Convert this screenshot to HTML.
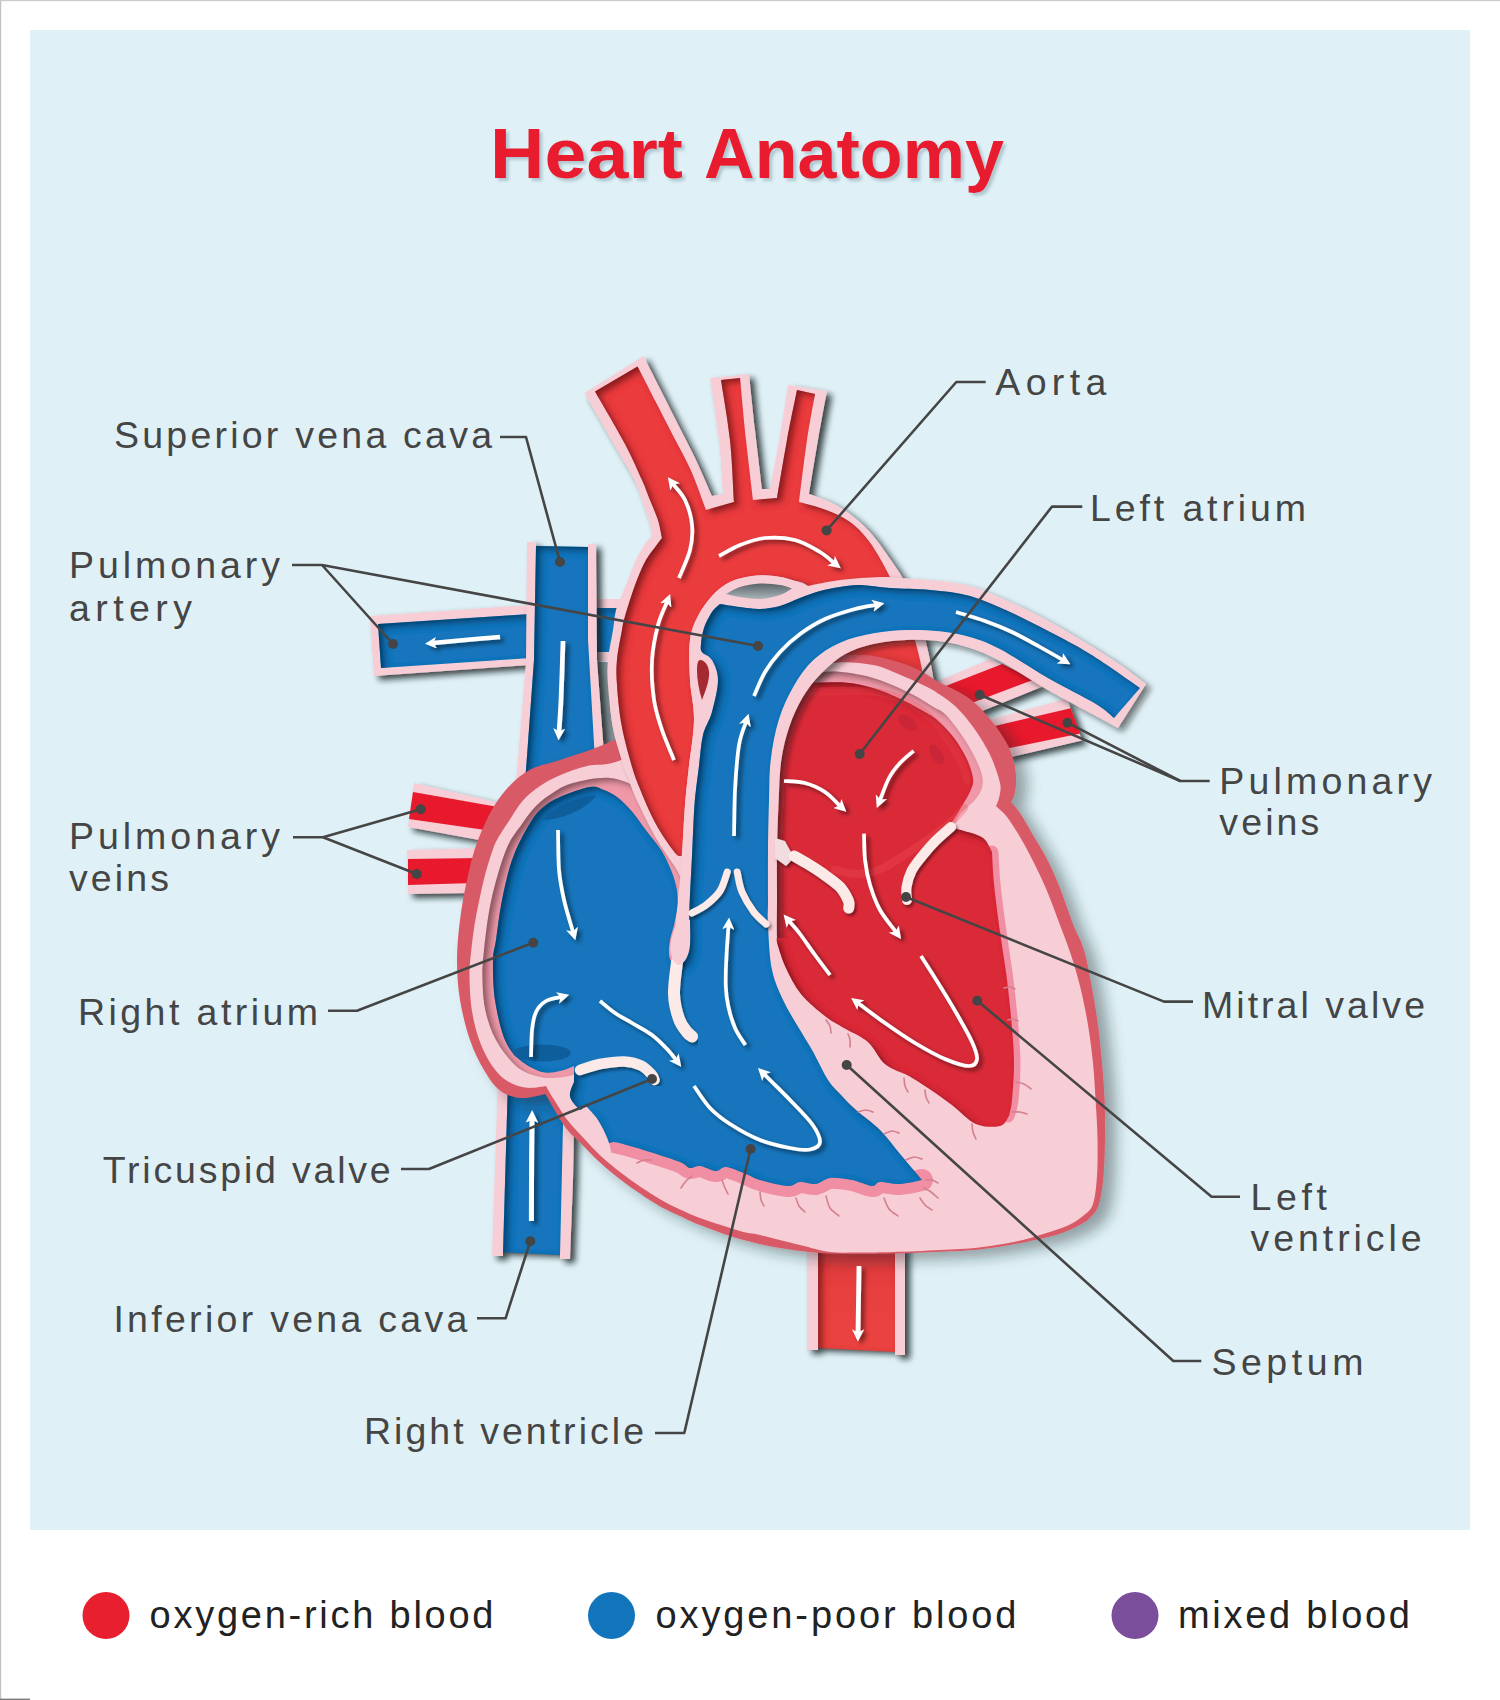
<!DOCTYPE html>
<html lang="en"><head><meta charset="utf-8"><title>Heart Anatomy</title>
<style>
html,body{margin:0;padding:0;background:#fff}
body{width:1500px;height:1700px;overflow:hidden;font-family:"Liberation Sans",sans-serif}
svg{display:block}
.lb{font-family:"Liberation Sans",sans-serif;font-size:37.5px;fill:#454545}
.ld{fill:none;stroke:#454545;stroke-width:2.6;stroke-linejoin:round}
.dot{fill:#454545}
</style></head><body>
<svg width="1500" height="1700" viewBox="0 0 1500 1700">
<defs>
<filter id="ds" x="-20%" y="-20%" width="140%" height="140%"><feDropShadow dx="5" dy="4" stdDeviation="3" flood-color="#0c1216" flood-opacity=".8"/></filter>
<filter id="dsm" x="-20%" y="-20%" width="140%" height="140%"><feDropShadow dx="5" dy="4" stdDeviation="3.2" flood-color="#0c1216" flood-opacity=".55"/></filter>
<filter id="ds2" x="-20%" y="-20%" width="140%" height="140%"><feDropShadow dx="11" dy="7" stdDeviation="7" flood-color="#16242b" flood-opacity=".4"/></filter>
<filter id="dss" x="-30%" y="-30%" width="160%" height="160%"><feDropShadow dx="2" dy="2.5" stdDeviation="1.6" flood-color="#000" flood-opacity=".45"/></filter>
<filter id="dsa" filterUnits="userSpaceOnUse" x="0" y="0" width="1500" height="1700"><feDropShadow dx="3.5" dy="3" stdDeviation="1.9" flood-color="#000" flood-opacity=".5"/></filter>
<filter id="ts" x="-10%" y="-30%" width="120%" height="160%"><feDropShadow dx="3" dy="3" stdDeviation="1.5" flood-color="#5a7a88" flood-opacity=".35"/></filter>
<filter id="is" x="-10%" y="-10%" width="120%" height="120%">
<feComponentTransfer in="SourceAlpha" result="inv"><feFuncA type="table" tableValues="1 0"/></feComponentTransfer>
<feGaussianBlur in="inv" stdDeviation="3.2" result="b"/>
<feOffset in="b" dx="5" dy="4" result="o"/>
<feFlood flood-color="#000" flood-opacity=".7"/>
<feComposite in2="o" operator="in"/>
<feComposite in2="SourceAlpha" operator="in" result="sh"/>
<feMerge><feMergeNode in="SourceGraphic"/><feMergeNode in="sh"/></feMerge>
</filter>
<marker id="ah" viewBox="0 0 10 10" refX="3" refY="5" markerWidth="3.3" markerHeight="3.3" orient="auto-start-reverse" markerUnits="strokeWidth"><path d="M0 0L10 5L0 10L2.5 5Z" fill="#fff"/></marker>
<marker id="ah2" viewBox="0 0 10 10" refX="3" refY="5" markerWidth="2.55" markerHeight="2.55" orient="auto-start-reverse" markerUnits="strokeWidth"><path d="M0 0L10 5L0 10L2.5 5Z" fill="#fff"/></marker>
</defs>
<rect x="0" y="0" width="1500" height="1700" fill="#fff"/>
<rect x="30" y="30" width="1440" height="1500" fill="#dff1f7"/>
<rect x="0" y="0" width="1.2" height="1700" fill="#c2c2c2"/><rect x="0" y="0" width="1500" height="1.2" fill="#cccccc"/><rect x="0" y="1698.6" width="30" height="1.4" fill="#7d7d7d"/>
<g font-family="Liberation Sans, sans-serif" font-weight="bold" font-size="70.5" fill="#e81f2e" filter="url(#ts)"><text x="490" y="178" textLength="193" lengthAdjust="spacingAndGlyphs">Heart</text><text x="704" y="178" textLength="300" lengthAdjust="spacingAndGlyphs">Anatomy</text></g>
<path d="M807 1235L905 1235L905 1355L895 1355L895 1350L818 1347L818 1350L807 1350L807 1235Z" fill="#f7cdd6" filter="url(#ds)" />
<linearGradient id="gda" x1="0" y1="0" x2="0" y2="1"><stop offset="0" stop-color="#d9333a"/><stop offset=".5" stop-color="#e8403f"/><stop offset="1" stop-color="#ea4341"/></linearGradient>
<path d="M818 1235L895 1235L895 1352L818 1348L818 1235Z" fill="url(#gda)" filter="url(#is)" />
<path d="M930 684.5L990 659L1044 686L970 716L930 684.5Z" fill="#f7cdd6" filter="url(#ds)" />
<path d="M938 689L1002.3 664L1033.5 679.7L960 707.5L938 689Z" fill="#e8192c" />
<path d="M978 723L1067 698.5L1082 740.4L1005 758.5L978 723Z" fill="#f7cdd6" filter="url(#ds)" />
<path d="M980 729.5L1070.7 708.3L1080.3 733.5L998 750.5L980 729.5Z" fill="#e8192c" />
<path d="M414 783L500 803L490 842L408 827L414 783Z" fill="#f7cdd6" filter="url(#ds)" />
<path d="M413 792L498 807L492 831L409 819L413 792Z" fill="#e8192c" />
<path d="M407 850L482 848L472 893L408 894L407 850Z" fill="#f7cdd6" filter="url(#ds)" />
<path d="M408 859L480 858L474 883L408 885L408 859Z" fill="#e8192c" />
<path d="M370 616L530 605L530 665L374 676L370 616Z" fill="#f7cdd6" filter="url(#ds)" />
<path d="M378 624L530 614L530 658L381 668L378 624Z" fill="#1275bc" filter="url(#is)" />
<path d="M590 599L630 599L630 661L590 661L590 599Z" fill="#f7cdd6" />
<path d="M596 608L626 608L612 652L596 652L596 608Z" fill="#1275bc" filter="url(#is)" />
<path d="M596 662L620 662L622 745L600 745L596 662Z" fill="#8a979c" />
<path d="M498 1080L575 1080L573 1180L570 1259L560 1259L560 1253L503 1251L503 1256L492 1256L498 1080Z" fill="#f7cdd6" filter="url(#ds)" />
<path d="M508 1080L564 1080L560 1255L503 1252L508 1080Z" fill="#1275bc" filter="url(#is)" />
<path d="M527 542L536 542L536 547L588 548L588 544L596 544L597 660L603 740L608 800L514 800L518 760L526 660L527 542Z" fill="#f7cdd6" filter="url(#ds)" />
<path d="M536 546L588 547L588 640L594 744L598 800L522 800L526 770L534 660L536 546Z" fill="#1275bc" filter="url(#is)" />
<path d="M584.5 393L643.5 356C646.4 361.7 654.5 377.7 660.7 390C666.9 402.3 675 418.3 680.9 430C686.8 441.7 690.8 449 696 460C701.2 471 709.3 490 712 496L723 494C722.3 485 721.2 459.3 719 440C716.8 420.7 711.5 388.3 710 378L749 374C750 383.3 752.8 410.8 755 430C757.2 449.2 760.8 479.2 762 489L770 489C771.7 480.2 777 453.3 780 436C783 418.7 786.7 393.5 788 385L827 391C825.5 399.2 821 422.8 818 440C815 457.2 810.5 485 809 494C812.5 495.3 823.2 498.7 830 502C836.8 505.3 843.3 509 850 514C856.7 519 863.7 525 870 532C876.3 539 882 547.3 888 556C894 564.7 900.7 573.3 906 584C911.3 594.7 916 607.3 920 620C924 632.7 927.3 646.7 930 660C932.7 673.3 934.3 681.7 936 700C937.7 718.3 939.3 758.3 940 770L835 770C834.2 751.7 832.2 685.8 830 660C827.8 634.2 825.7 626.3 822 615C818.3 603.7 813 596.3 808 592C803 587.7 796.7 590.2 792 589C787.3 587.8 785.3 585.9 780 585C774.7 584.1 766.7 583.3 760 583.6C753.3 583.9 745.7 585.3 740 587C734.3 588.7 731.3 589.3 726 594C720.7 598.7 712.3 607.3 708 615C703.7 622.7 701.3 629.2 700 640C698.7 650.8 699.7 666.7 700 680C700.3 693.3 702.5 701.7 702 720C701.5 738.3 698.7 770 697 790C695.3 810 694.7 825.3 692 840C689.3 854.7 682.8 871.7 681 878C680 876.1 678.9 873.2 674.7 866.5C670.5 859.8 662.2 849 655.9 838C649.6 827 641.7 810.8 637 800.6C632.3 790.4 630.3 784.1 627.6 777C624.9 769.9 623.4 766.2 621 758C618.6 749.8 615.2 740.2 613 728C610.8 715.8 608.8 696.3 608 685C607.2 673.7 607.2 669.2 608 660C608.8 650.8 611.7 638.3 613 630C614.3 621.7 614.5 615.8 616 610C617.5 604.2 620 600 622 595C624 590 625.7 585.8 628 580C630.3 574.2 633.2 566 636 560C638.8 554 642.3 548 645 544C647.7 540 650.8 537.3 652 536C651.5 533.3 650.7 526 649 520C647.3 514 644.4 506.7 642 500C639.6 493.3 639 489 634.5 480C630 471 623.3 460.5 615 446C606.7 431.5 589.6 401.8 584.5 393Z" fill="#f7cdd6" filter="url(#ds)" />
<path d="M595 391.5L637.5 366.5C640.4 372.1 648.8 388.4 654.7 400C660.7 411.6 667.2 424.3 673.2 436C679.2 447.7 685.2 457.7 690.7 470C696.2 482.3 703.5 503.3 706 510L734 502C733.3 491.7 732.2 460.3 730 440C727.8 419.7 722.5 390 721 380L740 378C741 388.3 743.8 419.7 746 440C748.2 460.3 751.8 490 753 500L777 498C778.7 488.3 783.7 458 787 440C790.3 422 795.3 398.3 797 390L815 394C813.7 401.7 809.7 422 807 440C804.3 458 800.3 491.7 799 502C803.5 503.3 817.5 506.7 826 510C834.5 513.3 843 517 850 522C857 527 862.7 533.3 868 540C873.3 546.7 877.3 553.7 882 562C886.7 570.3 891.3 579.5 896 590C900.7 600.5 906 613.3 910 625C914 636.7 917.3 647.5 920 660C922.7 672.5 924.3 682.5 926 700C927.7 717.5 929.3 754.2 930 765L845 765C844.2 747.5 842.5 685.5 840 660C837.5 634.5 835.3 624.3 830 612C824.7 599.7 814.3 591.3 808 586C801.7 580.7 797.7 581.7 792 580C786.3 578.3 780.7 576.7 774 576C767.3 575.3 759.3 575 752 576C744.7 577 736.7 578.7 730 582C723.3 585.3 717.3 590.3 712 596C706.7 601.7 701.7 608.7 698 616C694.3 623.3 691.3 629.3 690 640C688.7 650.7 689.3 666.7 690 680C690.7 693.3 694.2 705.4 694 720C693.8 734.6 690.3 753.4 688.8 767.6C687.3 781.8 686 792.4 685 805C684 817.6 683.2 834.5 682.7 843C682.2 851.5 681.9 853.8 681.8 856C680.6 855.4 679 857.7 674.7 852.4C670.4 847.1 661.9 835 655.9 824C649.9 813 643.4 797.5 639 786.5C634.6 775.5 632.5 768.8 629.5 758C626.5 747.2 623.1 734.2 621 722C618.9 709.8 617.7 695.3 617 685C616.3 674.7 616.2 669.2 617 660C617.8 650.8 620.8 636.7 622 630C623.2 623.3 622.7 625 624 620C625.3 615 627.8 606.7 630 600C632.2 593.3 634.3 586.7 637 580C639.7 573.3 642.8 565.7 646 560C649.2 554.3 653.3 549.7 656 546C658.7 542.3 661 539.3 662 538C661.3 535 660 526.3 658 520C656 513.7 652.7 506.7 650 500C647.3 493.3 646.2 489.3 642 480C637.8 470.7 632.8 458.8 625 444C617.2 429.2 600 400.2 595 391.5Z" fill="#ea3a3d" filter="url(#is)" />
<linearGradient id="gh" x1="0" y1="0" x2="0" y2="1"><stop offset="0" stop-color="#5c6468"/><stop offset="1" stop-color="#aab6ba"/></linearGradient>
<path d="M1011 802C1012.5 803.8 1016.3 807.5 1020 813C1023.7 818.5 1028.5 827.3 1033 835C1037.5 842.7 1042.5 850.2 1047 859C1051.5 867.8 1055.7 877.2 1060 888C1064.3 898.8 1069 913.7 1073 924C1077 934.3 1080.8 939.3 1084 950C1087.2 960.7 1089.7 975.5 1092 988C1094.3 1000.5 1096.3 1012.5 1098 1025C1099.7 1037.5 1100.9 1050.5 1102 1063C1103.1 1075.5 1104.1 1087.5 1104.6 1100C1105.1 1112.5 1105.2 1125.3 1105 1138C1104.8 1150.7 1104.5 1165 1103.5 1176C1102.5 1187 1101.2 1197 1099 1204C1096.8 1211 1094 1214.1 1090 1218C1086 1221.9 1081 1224.6 1075 1227.5C1069 1230.4 1063.8 1232.8 1054 1235.5C1044.2 1238.2 1029 1241.5 1016.5 1243.8C1004 1246.1 991.8 1248.1 979 1249.4C966.2 1250.7 954.3 1251 940 1251.7C925.7 1252.4 906.3 1253.2 893 1253.6C879.7 1254 872.2 1254.1 860 1254C847.8 1253.9 833.3 1254 820 1253C806.7 1252 793.3 1250.3 780 1248C766.7 1245.7 753.3 1242.8 740 1239C726.7 1235.2 710 1228.8 700 1225C690 1221.2 686.7 1219.1 680 1216C673.3 1212.9 666.7 1210.1 660 1206.4C653.3 1202.7 646.7 1198.1 640 1193.6C633.3 1189.1 626.7 1184.4 620 1179.2C613.3 1174 606.7 1168.5 600 1162.4C593.3 1156.3 585.9 1148.4 580 1142.4C574.1 1136.4 570.5 1134.5 564.8 1126.4C559 1118.3 548.7 1099.4 545.5 1094C541.4 1094.7 528.6 1098.6 521 1098C513.4 1097.4 506.2 1095.2 500 1090.5C493.8 1085.8 489 1078.4 484 1070C479 1061.6 474 1051.7 470 1040C466 1028.3 462.2 1013.3 460 1000C457.8 986.7 457 973.3 457 960C457 946.7 458.3 933.3 460 920C461.7 906.7 464 893.3 467 880C470 866.7 472.8 853.3 478 840C483.2 826.7 490 811.3 498 800C506 788.7 515.7 778.7 526 772C536.3 765.3 549.3 763.7 560 760C570.7 756.3 581 753.3 590 750C599 746.7 599 746.7 614 740C629 733.3 655.7 720 680 710C704.3 700 736.7 688.7 760 680C783.3 671.3 805.8 662.2 820 658C834.2 653.8 836.2 655.3 845 655C853.8 654.7 863.8 654.7 873 656C882.2 657.3 892.2 660.2 900 662.7C907.8 665.2 913.3 667.4 920 670.7C926.7 674 934.2 679.5 940 682.7C945.8 685.9 950 687.3 955 690C960 692.7 965.3 695.5 970 699C974.7 702.5 979 706.8 983 711C987 715.2 990.7 719.7 994 724C997.3 728.3 1000.3 732.7 1003 737C1005.7 741.3 1008 745 1010 750C1012 755 1014 761.3 1015 767C1016 772.7 1016.2 779.2 1016 784C1015.8 788.8 1014.8 793 1014 796C1013.2 799 1011.5 801 1011 802Z" fill="#d75a66" filter="url(#ds2)" />
<path d="M996 806C997.8 807.8 1003 811.8 1007 817C1011 822.2 1015.7 829.7 1020 837C1024.3 844.3 1028.5 852 1033 861C1037.5 870 1042.5 880.3 1047 891C1051.5 901.7 1056 914.3 1060 925C1064 935.7 1067.6 944.5 1071 955C1074.4 965.5 1077.7 976.3 1080.5 988C1083.3 999.7 1085.9 1012.5 1088 1025C1090.1 1037.5 1091.7 1050.5 1093 1063C1094.3 1075.5 1094.8 1087.5 1095.6 1100C1096.3 1112.5 1097.3 1125.3 1097.5 1138C1097.7 1150.7 1097.8 1165 1097 1176C1096.2 1187 1095.3 1197.3 1093 1204C1090.7 1210.7 1087.2 1212.4 1083 1216C1078.8 1219.6 1074.3 1222.6 1068 1225.5C1061.7 1228.4 1053.7 1230.8 1045 1233.5C1036.3 1236.2 1027 1239.2 1016 1241.5C1005 1243.8 991.7 1246 979 1247.4C966.3 1248.8 954.3 1249.2 940 1250C925.7 1250.8 906.3 1251.6 893 1252C879.7 1252.4 870.5 1252.5 860 1252.5C849.5 1252.5 840 1253.2 830 1252C820 1250.8 811.7 1247.8 800 1245C788.3 1242.2 770 1237.3 760 1235C750 1232.7 750 1233.8 740 1231C730 1228.2 710 1221.6 700 1218C690 1214.4 686.7 1212.7 680 1209.6C673.3 1206.5 666.7 1203.1 660 1199.2C653.3 1195.3 646.7 1190.9 640 1186.4C633.3 1181.9 626.7 1177.2 620 1172C613.3 1166.8 606 1160.8 600 1155.2C594 1149.6 589.3 1144.1 584 1138.4C578.7 1132.7 573.2 1127.5 568 1120.8C562.8 1114.1 556.7 1103.8 553 1098C549.3 1092.2 547.2 1088 546 1086C542.8 1086.3 533.3 1088.5 527 1087.8C520.7 1087.1 513.7 1085.1 508 1081.6C502.3 1078.1 497.7 1073.6 493 1067C488.3 1060.4 483.5 1051.3 480 1042C476.5 1032.7 473.8 1022.2 472 1011C470.2 999.8 469.6 985.2 469.5 975C469.4 964.8 470.5 958.3 471.3 950C472.1 941.7 473.2 933.3 474.5 925C475.8 916.7 477.6 908.3 479.3 900C481.1 891.7 482.8 883.3 485 875C487.2 866.7 490.5 856.2 492.7 850C494.9 843.8 495.3 842.8 498 838C500.7 833.2 504.9 827.2 509 821C513.1 814.8 517.5 806.5 522.7 800.7C527.9 794.9 533.8 790.2 540 786C546.2 781.8 552.2 778.6 560 775.3C567.8 772 577 768.5 587 766C597 763.5 604.5 766.5 620 760.5C635.5 754.5 656.7 740.1 680 730C703.3 719.9 738.3 709.7 760 700C781.7 690.3 797.3 678.2 810 672C822.7 665.8 825.5 663.9 836 662.7C846.5 661.5 862.3 663 873 665C883.7 667 891 671.1 900 674.7C909 678.3 920 683.4 926.7 686.7C933.4 690 935.5 691.7 940 694.7C944.5 697.8 949.5 701 954 705C958.5 709 963 714.2 967 719C971 723.8 974.7 729 978 734C981.3 739 984.3 744 987 749C989.7 754 991.8 758 994 764C996.2 770 999.6 779.3 1000.4 785C1001.2 790.7 999.7 794.5 999 798C998.3 801.5 996.5 804.7 996 806Z" fill="#f7cdd6" />
<path d="M610 778C598.8 776.8 582.5 780.5 573 783C563.5 785.5 559.2 788.9 553 792.7C546.8 796.5 541.2 800.8 536 806C530.8 811.2 527 816.7 522 824C517 831.3 511.1 837.3 506 850C500.9 862.7 495 883.3 491.3 900C487.6 916.7 485.5 936.7 484 950C482.5 963.3 482.2 969.8 482.5 980C482.8 990.2 483.2 1001 485.5 1011C487.8 1021 491.2 1031.2 496 1040C500.8 1048.8 508.3 1058.3 514 1064C519.7 1069.7 524 1071.7 530 1074C536 1076.3 542.3 1078 550 1078C557.7 1078 567.7 1077 576 1074C584.3 1071 581 1065.7 600 1060C619 1054.3 673.3 1056.7 690 1040C706.7 1023.3 700 983.3 700 960C700 936.7 694 918.3 690 900C686 881.7 681 864.2 676 850C671 835.8 666 825 660 815C654 805 648.3 796.2 640 790C631.7 783.8 621.2 779.2 610 778Z" fill="#ee98a8" filter="url(#is)" />
<path d="M790 700C790 674 794.2 688.7 800 684C805.8 679.3 815 673.5 825 672C835 670.5 849.7 672.9 860 674.7C870.3 676.5 877.9 679.4 886.7 682.7C895.5 686 905.3 690.7 913 694.7C920.7 698.7 927.5 703.3 933 706.7C938.5 710.1 940.7 709.5 946 715C951.3 720.5 959.7 731.8 965 740C970.3 748.2 975 757.1 978 764C981 770.9 982.8 776.3 982.8 781.6C982.8 786.9 981.5 790.9 978 796C974.5 801.1 970 804.7 962 812C954 819.3 957 835.3 930 840C903 844.7 823.3 863.3 800 840C776.7 816.7 790 726 790 700Z" fill="#ee98a8" filter="url(#is)" />
<path d="M922 1180C918.3 1180.7 907 1183.7 900 1184C893 1184.3 884.7 1181.7 880 1182C875.3 1182.3 876.7 1186.3 872 1186C867.3 1185.7 859 1181.3 852 1180C845 1178.7 836 1177.3 830 1178C824 1178.7 821 1183.3 816 1184C811 1184.7 804.7 1181.7 800 1182C795.3 1182.3 794.7 1186.3 788 1186C781.3 1185.7 767 1182 760 1180C753 1178 751.7 1176.2 746 1174C740.3 1171.8 731 1167.5 726 1167C721 1166.5 720.3 1171.2 716 1171C711.7 1170.8 704.3 1166.5 700 1166C695.7 1165.5 693.3 1168.7 690 1168C686.7 1167.3 686.7 1164.7 680 1162C673.3 1159.3 658.3 1154.7 650 1152C641.7 1149.3 636 1147.7 630 1146C624 1144.3 616.7 1142.7 614 1142" fill="none" stroke="#f08fa3" stroke-width="22" stroke-linecap="round" stroke-linejoin="round" />
<path d="M992 852C992.3 857.3 992.7 870.7 994 884C995.3 897.3 997.8 916 1000 932C1002.2 948 1005 964 1007 980C1009 996 1010.8 1014 1012 1028C1013.2 1042 1014 1052 1014 1064C1014 1076 1013 1091.3 1012 1100C1011 1108.7 1008.7 1113.3 1008 1116" fill="none" stroke="#f08fa3" stroke-width="13" stroke-linecap="round" stroke-linejoin="round" />
<path d="M814.7 682.7C820 682.7 837 681.8 846.7 682.7C856.4 683.6 864.1 685.3 873 688C881.9 690.7 891 694.5 900 698.7C909 702.9 920 709 926.7 713C933.4 717 935.5 718.5 940 722.7C944.5 726.9 949.5 732 954 738C958.5 744 963.6 752.3 966.8 759C970 765.7 972.3 773.2 973 778.4C973.7 783.6 972.6 785.4 970.8 790C969 794.6 965.6 799.8 962 806C958.4 812.2 951.2 823.5 949 827C951.5 827.7 958.3 829.2 964 831C969.7 832.8 978.3 834.5 983 838C987.7 841.5 990.5 849.7 992 852C992.3 857.3 992.7 870.7 994 884C995.3 897.3 997.8 916 1000 932C1002.2 948 1005 964 1007 980C1009 996 1010.8 1014 1012 1028C1013.2 1042 1014 1052 1014 1064C1014 1076 1012.8 1091.3 1012 1100C1011.2 1108.7 1009.5 1113.3 1009 1116C1007.5 1117.7 1005.5 1124.7 1000 1126C994.5 1127.3 984 1127.5 976 1124C968 1120.5 960 1111 952 1105C944 1099 935.2 1092.8 928 1088C920.8 1083.2 916.2 1080 909 1076C901.8 1072 891.8 1069.7 885 1064C878.2 1058.3 874.8 1048 868 1042C861.2 1036 851.2 1032.3 844 1028C836.8 1023.7 832.2 1021.7 825 1016C817.8 1010.3 807.5 1002 801 994C794.5 986 789.9 976.3 786 968C782.1 959.7 779 949.3 777.5 944C776 938.7 777.1 937.3 777 936L758 936C758 921.7 758 886 758 850C758 814 756 746.7 758 720C760 693.3 763.7 698.7 770 690C776.3 681.3 788.5 669.2 796 668C803.5 666.8 811.6 680.2 814.7 682.7Z" fill="#da2b38" filter="url(#is)" />
<path d="M964 808C961.7 810.5 957.7 816.7 950 823C942.3 829.3 929.2 838.5 918 846C906.8 853.5 893 863.3 883 868C873 872.7 866 873.7 858 874C850 874.3 838.8 870.7 835 870" fill="none" stroke="rgba(238,80,88,.32)" stroke-width="8" stroke-linecap="round" stroke-linejoin="round" />
<path d="M806 692C813.3 691.8 837.3 690.8 850 691C862.7 691.2 871.7 690.8 882 693C892.3 695.2 903.2 699.2 912 704C920.8 708.8 928.7 715.7 935 722C941.3 728.3 945.5 735.2 950 742C954.5 748.8 959.2 756.7 962 763C964.8 769.3 966.2 777.2 967 780" fill="none" stroke="rgba(236,72,80,.25)" stroke-width="8" stroke-linecap="round" stroke-linejoin="round" />
<ellipse cx="907.5" cy="722.5" rx="11" ry="6" transform="rotate(38 907.5 722.5)" fill="#c62538" opacity=".75"/>
<ellipse cx="936.5" cy="754.5" rx="11" ry="5.5" transform="rotate(58 936.5 754.5)" fill="#c62538" opacity=".75"/>
<clipPath id="cpA"><rect x="590" y="705" width="125" height="200"/></clipPath>
<g clip-path="url(#cpA)">
<path d="M584.5 393L643.5 356C646.4 361.7 654.5 377.7 660.7 390C666.9 402.3 675 418.3 680.9 430C686.8 441.7 690.8 449 696 460C701.2 471 709.3 490 712 496L723 494C722.3 485 721.2 459.3 719 440C716.8 420.7 711.5 388.3 710 378L749 374C750 383.3 752.8 410.8 755 430C757.2 449.2 760.8 479.2 762 489L770 489C771.7 480.2 777 453.3 780 436C783 418.7 786.7 393.5 788 385L827 391C825.5 399.2 821 422.8 818 440C815 457.2 810.5 485 809 494C812.5 495.3 823.2 498.7 830 502C836.8 505.3 843.3 509 850 514C856.7 519 863.7 525 870 532C876.3 539 882 547.3 888 556C894 564.7 900.7 573.3 906 584C911.3 594.7 916 607.3 920 620C924 632.7 927.3 646.7 930 660C932.7 673.3 934.3 681.7 936 700C937.7 718.3 939.3 758.3 940 770L835 770C834.2 751.7 832.2 685.8 830 660C827.8 634.2 825.7 626.3 822 615C818.3 603.7 813 596.3 808 592C803 587.7 796.7 590.2 792 589C787.3 587.8 785.3 585.9 780 585C774.7 584.1 766.7 583.3 760 583.6C753.3 583.9 745.7 585.3 740 587C734.3 588.7 731.3 589.3 726 594C720.7 598.7 712.3 607.3 708 615C703.7 622.7 701.3 629.2 700 640C698.7 650.8 699.7 666.7 700 680C700.3 693.3 702.5 701.7 702 720C701.5 738.3 698.7 770 697 790C695.3 810 694.7 825.3 692 840C689.3 854.7 682.8 871.7 681 878C680 876.1 678.9 873.2 674.7 866.5C670.5 859.8 662.2 849 655.9 838C649.6 827 641.7 810.8 637 800.6C632.3 790.4 630.3 784.1 627.6 777C624.9 769.9 623.4 766.2 621 758C618.6 749.8 615.2 740.2 613 728C610.8 715.8 608.8 696.3 608 685C607.2 673.7 607.2 669.2 608 660C608.8 650.8 611.7 638.3 613 630C614.3 621.7 614.5 615.8 616 610C617.5 604.2 620 600 622 595C624 590 625.7 585.8 628 580C630.3 574.2 633.2 566 636 560C638.8 554 642.3 548 645 544C647.7 540 650.8 537.3 652 536C651.5 533.3 650.7 526 649 520C647.3 514 644.4 506.7 642 500C639.6 493.3 639 489 634.5 480C630 471 623.3 460.5 615 446C606.7 431.5 589.6 401.8 584.5 393Z" fill="#f7cdd6" filter="url(#dss)" />
<path d="M595 391.5L637.5 366.5C640.4 372.1 648.8 388.4 654.7 400C660.7 411.6 667.2 424.3 673.2 436C679.2 447.7 685.2 457.7 690.7 470C696.2 482.3 703.5 503.3 706 510L734 502C733.3 491.7 732.2 460.3 730 440C727.8 419.7 722.5 390 721 380L740 378C741 388.3 743.8 419.7 746 440C748.2 460.3 751.8 490 753 500L777 498C778.7 488.3 783.7 458 787 440C790.3 422 795.3 398.3 797 390L815 394C813.7 401.7 809.7 422 807 440C804.3 458 800.3 491.7 799 502C803.5 503.3 817.5 506.7 826 510C834.5 513.3 843 517 850 522C857 527 862.7 533.3 868 540C873.3 546.7 877.3 553.7 882 562C886.7 570.3 891.3 579.5 896 590C900.7 600.5 906 613.3 910 625C914 636.7 917.3 647.5 920 660C922.7 672.5 924.3 682.5 926 700C927.7 717.5 929.3 754.2 930 765L845 765C844.2 747.5 842.5 685.5 840 660C837.5 634.5 835.3 624.3 830 612C824.7 599.7 814.3 591.3 808 586C801.7 580.7 797.7 581.7 792 580C786.3 578.3 780.7 576.7 774 576C767.3 575.3 759.3 575 752 576C744.7 577 736.7 578.7 730 582C723.3 585.3 717.3 590.3 712 596C706.7 601.7 701.7 608.7 698 616C694.3 623.3 691.3 629.3 690 640C688.7 650.7 689.3 666.7 690 680C690.7 693.3 694.2 705.4 694 720C693.8 734.6 690.3 753.4 688.8 767.6C687.3 781.8 686 792.4 685 805C684 817.6 683.2 834.5 682.7 843C682.2 851.5 681.9 853.8 681.8 856C680.6 855.4 679 857.7 674.7 852.4C670.4 847.1 661.9 835 655.9 824C649.9 813 643.4 797.5 639 786.5C634.6 775.5 632.5 768.8 629.5 758C626.5 747.2 623.1 734.2 621 722C618.9 709.8 617.7 695.3 617 685C616.3 674.7 616.2 669.2 617 660C617.8 650.8 620.8 636.7 622 630C623.2 623.3 622.7 625 624 620C625.3 615 627.8 606.7 630 600C632.2 593.3 634.3 586.7 637 580C639.7 573.3 642.8 565.7 646 560C649.2 554.3 653.3 549.7 656 546C658.7 542.3 661 539.3 662 538C661.3 535 660 526.3 658 520C656 513.7 652.7 506.7 650 500C647.3 493.3 646.2 489.3 642 480C637.8 470.7 632.8 458.8 625 444C617.2 429.2 600 400.2 595 391.5Z" fill="#ea3a3d" filter="url(#is)" />
</g>
<clipPath id="cpP"><path clip-rule="evenodd" d="M0 0H1500V1700H0ZM660 938H800V1100H660Z"/></clipPath>
<g clip-path="url(#cpP)">
<path d="M680 880C680.5 873.8 681.9 855.5 682.7 843C683.5 830.5 684 817.6 685 805C686 792.4 687.3 781.8 688.8 767.6C690.3 753.4 693.8 734.6 694 720C694.2 705.4 690.7 693.3 690 680C689.3 666.7 688.7 650.7 690 640C691.3 629.3 694.3 623.3 698 616C701.7 608.7 706.7 601.7 712 596C717.3 590.3 723.3 585.3 730 582C736.7 578.7 744.7 577 752 576C759.3 575 767.3 575.3 774 576C780.7 576.7 786.3 578.3 792 580C797.7 581.7 805.3 585 808 586C813.3 585 828 581.5 840 580C852 578.5 870 577.3 880 577C890 576.7 891.7 577.5 900 578C908.3 578.5 918.3 578.7 930 580C941.7 581.3 956.7 582.3 970 586C983.3 589.7 996.7 596 1010 602C1023.3 608 1033.3 612.7 1050 622C1066.7 631.3 1094 647.7 1110 658C1126 668.3 1140 679.7 1146 684L1118 728C1114.3 726 1107.7 722.3 1096 716C1084.3 709.7 1064 699.2 1048 690C1032 680.8 1013 668 1000 661C987 654 980 651.3 970 648C960 644.7 950.5 642.6 940 641.3C929.5 640 917.8 639.5 906.7 640C895.6 640.5 883.8 641.5 873.3 644C862.8 646.5 852.9 649.6 844 654.7C835.1 659.8 826.9 667.6 820 674.7C813.1 681.8 807.8 688.6 802.7 697.3C797.6 706 792.9 716.2 789.3 726.7C785.7 737.2 783.1 747.8 781.3 760C779.5 772.2 779.4 785 778.7 800C778 815 777.3 833.3 777 850C776.7 866.7 777 885 777 900C777 915 776.5 923.3 777 940C777.5 956.7 779.5 990 780 1000L690 1000C687.7 990 677.7 960 676 940C674.3 920 679.3 890 680 880Z" fill="#f7cdd6" filter="url(#dsm)" />
</g>
<path d="M726 594C728.3 592.8 734.3 588.7 740 587C745.7 585.3 753.3 583.9 760 583.6C766.7 583.3 774.7 584.2 780 585C785.3 585.8 790 587.9 792 588.5C790 589.6 785.3 593.2 780 595C774.7 596.8 766.7 598.7 760 599C753.3 599.3 745.7 597.8 740 597C734.3 596.2 728.3 594.5 726 594Z" fill="url(#gh)" />
<path d="M700 660C706 660 710 668 709 676C708 686 704 694 702 700C699 690 697 680 697 670C697 664 698 660 700 660Z" fill="#a32a30"/>
<path d="M720 604C723.3 604.5 733.3 606.2 740 607C746.7 607.8 753.3 609.2 760 609C766.7 608.8 773.3 607.8 780 606C786.7 604.2 793.3 600.5 800 598C806.7 595.5 813.3 592.8 820 591C826.7 589.2 833.3 588 840 587C846.7 586 851.7 584.8 860 585C868.3 585.2 878.3 587.2 890 588C901.7 588.8 916.7 588.7 930 590C943.3 591.3 956.7 592.3 970 596C983.3 599.7 996.7 606 1010 612C1023.3 618 1036.7 625 1050 632C1063.3 639 1075 644.7 1090 654C1105 663.3 1131.7 682.3 1140 688L1114 718C1111 715.7 1107 710.7 1096 704C1085 697.3 1064 687.2 1048 678C1032 668.8 1013 655.8 1000 649C987 642.2 980 640 970 637C960 634 950.5 632.5 940 631.3C929.5 630.1 917.8 629.7 906.7 630C895.6 630.3 884.4 631.2 873.3 633.3C862.2 635.4 850 638.2 840 642.7C830 647.2 821.1 652.7 813.3 660C805.5 667.3 799.1 676.7 793.3 686.7C787.5 696.7 782.5 707.8 778.7 720C774.9 732.2 772.3 746.7 770.7 760C769.1 773.3 769.5 785 769 800C768.5 815 768.2 833.3 768 850C767.8 866.7 768 887.3 768 900C768 912.7 767.3 914.3 768 926C768.7 937.7 769.3 957.3 772 970C774.7 982.7 779.3 992 784 1002C788.7 1012 795.3 1022 800 1030C804.7 1038 807.3 1041.7 812 1050C816.7 1058.3 823.3 1072.7 828 1080C832.7 1087.3 835.3 1089 840 1094C844.7 1099 849.3 1104 856 1110C862.7 1116 872.7 1122.7 880 1130C887.3 1137.3 893 1145.7 900 1154C907 1162.3 918.3 1175.7 922 1180C918.3 1180.7 907 1183.7 900 1184C893 1184.3 884.7 1181.7 880 1182C875.3 1182.3 876.7 1186.3 872 1186C867.3 1185.7 859 1181.3 852 1180C845 1178.7 836 1177.3 830 1178C824 1178.7 821 1183.3 816 1184C811 1184.7 804.7 1181.7 800 1182C795.3 1182.3 794.7 1186.3 788 1186C781.3 1185.7 767 1182 760 1180C753 1178 751.7 1176.2 746 1174C740.3 1171.8 731 1167.5 726 1167C721 1166.5 720.3 1171.2 716 1171C711.7 1170.8 704.3 1166.5 700 1166C695.7 1165.5 693.3 1168.7 690 1168C686.7 1167.3 686.7 1164.7 680 1162C673.3 1159.3 658.3 1154.7 650 1152C641.7 1149.3 636 1147.7 630 1146C624 1144.3 618 1142.2 614 1142C610 1141.8 607.3 1144.5 606 1145C604.8 1142.5 601 1134.5 599 1130C597 1125.5 594.8 1120 594 1118C593 1117.3 590.7 1115.7 588 1114C585.3 1112.3 581 1111 578 1108C575 1105 570.7 1100.3 570 1096C569.3 1091.7 573.3 1084.3 574 1082L574 1066C571.7 1066.8 565.3 1070 560 1071C554.7 1072 548.7 1073.8 542 1072C535.3 1070.2 526.2 1065.3 520 1060C513.8 1054.7 509.2 1050 505 1040C500.8 1030 497 1013.3 495 1000C493 986.7 492.8 970 493 960C493.2 950 494.5 950 496 940C497.5 930 499.3 913.3 502 900C504.7 886.7 508 871.7 512 860C516 848.3 521.3 838.3 526 830C530.7 821.7 534.3 815.5 540 810C545.7 804.5 551.7 800.8 560 797C568.3 793.2 582.7 788.2 590 787C597.3 785.8 599.3 788.2 604 790C608.7 791.8 613.3 794.1 618 797.8C622.7 801.5 627.6 806.5 632.4 812C637.1 817.5 641.7 824.7 646.5 831C651.3 837.3 656.9 843.5 661 850C665.1 856.5 668.4 863.7 671 870C673.6 876.3 675.4 882.2 676.5 888C677.6 893.8 677.9 898.8 677.5 905C677.1 911.2 675.2 919.2 674 925C672.8 930.8 670.8 935 670 940C669.2 945 668.5 951 669 955C669.5 959 671.2 962.3 673 964C674.8 965.7 677.8 966 680 965C682.2 964 684.4 961.5 686 958C687.6 954.5 688.8 951.7 689.4 944C690 936.3 689 926.7 689.4 912C689.8 897.3 691.1 873.8 692 856C692.9 838.2 693.4 819.7 694.5 805C695.6 790.3 697.4 779.3 698.8 767.6C700.2 755.9 700.8 744.3 703 735C705.2 725.7 709.5 721.2 712 712C714.5 702.8 718 688.7 718 680C718 671.3 714.7 664.7 712 660C709.3 655.3 703.8 654.7 702 652C700.2 649.3 700.7 648 701 644C701.3 640 702.2 633.3 704 628C705.8 622.7 709.3 616 712 612C714.7 608 718.7 605.3 720 604Z" fill="#1275bc" filter="url(#is)" />
<path d="M-29 2C-18 -7 12 -8 29 -3C20 6 -12 9 -29 2Z" transform="translate(569.5 808) rotate(-20)" fill="#0f5e9c"/>
<ellipse cx="542" cy="1053" rx="29" ry="8.5" fill="#0f5e9c"/>
<path d="M586 1106C588 1108.3 594.3 1114.3 598 1120C601.7 1125.7 605.6 1133.7 608 1140C610.4 1146.3 611.8 1155 612.5 1158C610.9 1156.2 606.4 1151.7 603 1147C599.6 1142.3 596.2 1135.8 592 1130C587.8 1124.2 580.3 1115 578 1112L586 1106Z" fill="#f7cdd6" />
<path d="M722 1180C722.5 1181.3 724 1185.7 725 1188C726 1190.3 727.5 1193 728 1194" fill="none" stroke="#d37f8f" stroke-width="1.6" stroke-linecap="round" stroke-linejoin="round" />
<path d="M760 1192C760.2 1193.3 760.3 1197.7 761 1200C761.7 1202.3 763.5 1205 764 1206" fill="none" stroke="#d37f8f" stroke-width="1.6" stroke-linecap="round" stroke-linejoin="round" />
<path d="M796 1198C796.5 1199.3 797.5 1203.7 799 1206C800.5 1208.3 804 1211 805 1212" fill="none" stroke="#d37f8f" stroke-width="1.6" stroke-linecap="round" stroke-linejoin="round" />
<path d="M826 1196C826.7 1198 827.8 1204.7 830 1208C832.2 1211.3 837.5 1214.7 839 1216" fill="none" stroke="#d37f8f" stroke-width="1.6" stroke-linecap="round" stroke-linejoin="round" />
<path d="M884 1198C884.8 1199.8 886.7 1206 889 1209C891.3 1212 896.5 1214.8 898 1216" fill="none" stroke="#d37f8f" stroke-width="1.6" stroke-linecap="round" stroke-linejoin="round" />
<path d="M920 1198C920.8 1199.2 923 1203 925 1205C927 1207 930.8 1209.2 932 1210" fill="none" stroke="#d37f8f" stroke-width="1.6" stroke-linecap="round" stroke-linejoin="round" />
<path d="M926 1180C927 1180 930 1179.5 932 1180C934 1180.5 937 1182.5 938 1183" fill="none" stroke="#d37f8f" stroke-width="1.6" stroke-linecap="round" stroke-linejoin="round" />
<path d="M924 1188C925.2 1188.7 928.7 1190.3 931 1192C933.3 1193.7 936.8 1197 938 1198" fill="none" stroke="#d37f8f" stroke-width="1.6" stroke-linecap="round" stroke-linejoin="round" />
<path d="M652 1160C650.7 1160 646.5 1159.5 644 1160C641.5 1160.5 638.2 1162.5 637 1163" fill="none" stroke="#d37f8f" stroke-width="1.6" stroke-linecap="round" stroke-linejoin="round" />
<path d="M692 1176C691 1176.8 687.8 1179 686 1181C684.2 1183 681.8 1186.8 681 1188" fill="none" stroke="#d37f8f" stroke-width="1.6" stroke-linecap="round" stroke-linejoin="round" />
<path d="M858 1112C859.3 1111.7 863.5 1110 866 1110C868.5 1110 871.8 1111.7 873 1112" fill="none" stroke="#d37f8f" stroke-width="1.6" stroke-linecap="round" stroke-linejoin="round" />
<path d="M884 1134C885.3 1133.5 889.5 1131.2 892 1131C894.5 1130.8 897.8 1132.7 899 1133" fill="none" stroke="#d37f8f" stroke-width="1.6" stroke-linecap="round" stroke-linejoin="round" />
<path d="M906 1160C907.3 1159.5 911.3 1157.2 914 1157C916.7 1156.8 920.7 1158.7 922 1159" fill="none" stroke="#d37f8f" stroke-width="1.6" stroke-linecap="round" stroke-linejoin="round" />
<path d="M826 1020C826.7 1021 829.2 1023.8 830 1026C830.8 1028.2 830.8 1031.8 831 1033" fill="none" stroke="#d37f8f" stroke-width="1.6" stroke-linecap="round" stroke-linejoin="round" />
<path d="M848 1034C848.3 1035 849.7 1037.8 850 1040C850.3 1042.2 850 1045.8 850 1047" fill="none" stroke="#d37f8f" stroke-width="1.6" stroke-linecap="round" stroke-linejoin="round" />
<path d="M904 1078C904.2 1079.3 904.3 1083.7 905 1086C905.7 1088.3 907.5 1091 908 1092" fill="none" stroke="#d37f8f" stroke-width="1.6" stroke-linecap="round" stroke-linejoin="round" />
<path d="M925 1090C925.2 1091.2 925.3 1094.8 926 1097C926.7 1099.2 928.5 1102 929 1103" fill="none" stroke="#d37f8f" stroke-width="1.6" stroke-linecap="round" stroke-linejoin="round" />
<path d="M972 1124C972.2 1125.3 972.3 1129.5 973 1132C973.7 1134.5 975.5 1137.8 976 1139" fill="none" stroke="#d37f8f" stroke-width="1.6" stroke-linecap="round" stroke-linejoin="round" />
<path d="M1016 1082C1017.3 1082.3 1021.5 1082.8 1024 1084C1026.5 1085.2 1029.8 1088.2 1031 1089" fill="none" stroke="#d37f8f" stroke-width="1.6" stroke-linecap="round" stroke-linejoin="round" />
<path d="M1012 1112C1013.3 1112 1017.5 1111.7 1020 1112C1022.5 1112.3 1025.8 1113.7 1027 1114" fill="none" stroke="#d37f8f" stroke-width="1.6" stroke-linecap="round" stroke-linejoin="round" />
<path d="M1008 1020C1008.8 1019.8 1011.3 1018.8 1013 1019C1014.7 1019.2 1017.2 1020.7 1018 1021" fill="none" stroke="#d37f8f" stroke-width="1.6" stroke-linecap="round" stroke-linejoin="round" />
<path d="M1004 988C1005 987.8 1008.2 986.8 1010 987C1011.8 987.2 1014.2 988.7 1015 989" fill="none" stroke="#d37f8f" stroke-width="1.6" stroke-linecap="round" stroke-linejoin="round" />
<path d="M580 1070C583.3 1069 592.7 1065.4 600 1064C607.3 1062.6 617.2 1061.2 624 1061.4C630.8 1061.6 636.4 1063.2 641 1065.4C645.6 1067.6 649.4 1072 651.6 1074.4C653.9 1076.8 654 1079.1 654.5 1080" fill="none" stroke="#fbeae8" stroke-width="10.5" stroke-linecap="round" stroke-linejoin="round" filter="url(#dss)" />
<path d="M677 962C676.5 967.3 673.7 984.5 674 994C674.3 1003.5 676.8 1012.7 679 1019C681.2 1025.3 684.8 1029.1 687 1032C689.2 1034.9 691.2 1035.8 692 1036.5" fill="none" stroke="#fbeae8" stroke-width="12" stroke-linecap="round" stroke-linejoin="round" filter="url(#dss)" />
<path d="M677 920L690 920C690 924.2 690.6 938.7 690 945C689.4 951.3 688.2 954.7 686.5 958C684.8 961.3 681.8 964.8 679.5 965C677.2 965.2 674 962.5 672.5 959C671 955.5 669.8 950.5 670.5 944C671.2 937.5 675.9 924 677 920Z" fill="#f7cdd6" />
<path d="M727.3 872C726.1 875.2 723.5 885.5 720 891C716.5 896.5 710.7 901.3 706 905C701.3 908.7 694.3 911.7 692 913" fill="none" stroke="#fbeae8" stroke-width="7" stroke-linecap="round" stroke-linejoin="round" filter="url(#dss)" />
<path d="M737.2 872C738 875.3 739.2 885.4 742 892C744.8 898.6 749.7 906.5 753.7 911.8C757.7 917.1 764 922 766 924" fill="none" stroke="#fbeae8" stroke-width="7" stroke-linecap="round" stroke-linejoin="round" filter="url(#dss)" />
<path d="M775 838L785 841L794 858L786 866L775 858Z" fill="#f1dde0" filter="url(#dss)"/>
<path d="M794 856C796.3 857.3 803.3 861.2 808 864C812.7 866.8 816.7 869.2 822 873C827.3 876.8 835.6 882.3 840 887C844.4 891.7 847 897.5 848.5 901C850 904.5 848.7 906.8 848.7 908" fill="none" stroke="#fbeae8" stroke-width="11" stroke-linecap="round" stroke-linejoin="round" filter="url(#dss)" />
<path d="M951 827C948.2 829.6 939 837.4 934 842.5C929 847.6 924.8 852.8 921 857.5C917.2 862.2 913.9 866.1 911.5 871C909.1 875.9 907.2 882.2 906.5 887C905.8 891.8 906.9 897.8 907 900" fill="none" stroke="#fbeae8" stroke-width="10" stroke-linecap="round" stroke-linejoin="round" filter="url(#dss)" />
<g filter="url(#dsa)">
<path d="M500 637C494.2 637.5 476.2 639 465 640C453.8 641 438.3 642.5 433 643" fill="none" stroke="#fff" stroke-width="4.5" stroke-linecap="butt" marker-end="url(#ah2)"/>
<path d="M563 641C562.7 650.8 561.7 684.8 561 700C560.3 715.2 559.3 726.7 559 732" fill="none" stroke="#fff" stroke-width="4.7" stroke-linecap="butt" marker-end="url(#ah2)"/>
<path d="M674 760C672 755 665.3 740 662 730C658.7 720 655.7 711.7 654 700C652.3 688.3 651.3 672.5 652 660C652.7 647.5 655.5 634.7 658 625C660.5 615.3 665.5 605.8 667 602" fill="none" stroke="#fff" stroke-width="3.7" stroke-linecap="butt" marker-end="url(#ah)"/>
<path d="M679 578C680.8 573.3 687.8 558.8 690 550C692.2 541.2 692.8 533.3 692 525C691.2 516.7 688.2 506.8 685 500C681.8 493.2 675 486.7 673 484" fill="none" stroke="#fff" stroke-width="3.7" stroke-linecap="butt" marker-end="url(#ah)"/>
<path d="M719 556C722.5 554.2 732.3 548 740 545C747.7 542 755.8 538.8 765 538C774.2 537.2 785.8 537.7 795 540C804.2 542.3 813.5 548.2 820 552C826.5 555.8 831.7 561.2 834 563" fill="none" stroke="#fff" stroke-width="3.7" stroke-linecap="butt" marker-end="url(#ah)"/>
<path d="M734 836C734.2 828.3 734.2 805.2 735 790C735.8 774.8 737.2 756.3 739 745C740.8 733.7 744.8 725.8 746 722" fill="none" stroke="#fff" stroke-width="3.7" stroke-linecap="butt" marker-end="url(#ah)"/>
<path d="M754 696C755.8 692 760.7 679.3 765 672C769.3 664.7 774.2 658.3 780 652C785.8 645.7 792.5 639.5 800 634C807.5 628.5 815.8 623.2 825 619C834.2 614.8 846.5 611.3 855 609C863.5 606.7 872.5 605.7 876 605" fill="none" stroke="#fff" stroke-width="3.7" stroke-linecap="butt" marker-end="url(#ah)"/>
<path d="M956 612C960.8 613.5 975.7 617.7 985 621C994.3 624.3 1002.8 627.7 1012 632C1021.2 636.3 1031.5 642.3 1040 647C1048.5 651.7 1059.2 657.8 1063 660" fill="none" stroke="#fff" stroke-width="3.7" stroke-linecap="butt" marker-end="url(#ah)"/>
<path d="M558 830C558.2 836.7 558 858.3 559 870C560 881.7 561.7 889.7 564 900C566.3 910.3 571.5 926.7 573 932" fill="none" stroke="#fff" stroke-width="3.7" stroke-linecap="butt" marker-end="url(#ah)"/>
<path d="M531 1057C531.2 1052.5 531.2 1037.5 532 1030C532.8 1022.5 533.7 1016.8 536 1012C538.3 1007.2 541.8 1003.5 546 1001C550.2 998.5 558.5 997.7 561 997" fill="none" stroke="#fff" stroke-width="3.7" stroke-linecap="butt" marker-end="url(#ah)"/>
<path d="M600 1001C602.5 1003 609.7 1009.3 615 1013C620.3 1016.7 625.8 1019.3 632 1023C638.2 1026.7 646 1030.5 652 1035C658 1039.5 664 1045.8 668 1050C672 1054.2 674.7 1058.3 676 1060" fill="none" stroke="#fff" stroke-width="3.7" stroke-linecap="butt" marker-end="url(#ah)"/>
<path d="M694 1086C696.7 1089.7 704 1101.7 710 1108C716 1114.3 721.7 1118.7 730 1124C738.3 1129.3 750 1136 760 1140C770 1144 781.7 1146.4 790 1148C798.3 1149.6 805 1150.5 810 1149.5C815 1148.5 819.7 1146.2 820 1142C820.3 1137.8 817 1131 812 1124C807 1117 796.7 1107 790 1100C783.3 1093 776.3 1086.3 772 1082C767.7 1077.7 765.3 1075.3 764 1074" fill="none" stroke="#fff" stroke-width="3.7" stroke-linecap="butt" marker-end="url(#ah)"/>
<path d="M745.4 1045C743.7 1042.2 737.9 1034.7 735 1028C732.1 1021.3 729.5 1012.2 728 1005C726.5 997.8 726 993.3 725.7 985C725.5 976.7 726 964.8 726.5 955C727 945.2 728.2 930.8 728.5 926" fill="none" stroke="#fff" stroke-width="3.7" stroke-linecap="butt" marker-end="url(#ah)"/>
<path d="M531.4 1221C531.4 1210.8 531.5 1177 531.6 1160C531.7 1143 531.9 1125.8 532 1119" fill="none" stroke="#fff" stroke-width="5" stroke-linecap="butt" marker-end="url(#ah2)"/>
<path d="M784 781C787.5 781.3 798.2 781.2 805 783C811.8 784.8 819.2 788.2 825 792C830.8 795.8 837.5 803.7 840 806" fill="none" stroke="#fff" stroke-width="3.7" stroke-linecap="butt" marker-end="url(#ah)"/>
<path d="M913.6 750.8C911.3 752.8 904.1 758.5 900 763C895.9 767.5 892.3 771.8 889 778C885.7 784.2 881.5 796.3 880 800" fill="none" stroke="#fff" stroke-width="3.7" stroke-linecap="butt" marker-end="url(#ah)"/>
<path d="M864 833.6C864.2 838 864 851.4 865 860C866 868.6 867.5 876.7 870 885C872.5 893.3 875.7 902.2 880 910C884.3 917.8 893.3 928.3 896 932" fill="none" stroke="#fff" stroke-width="3.7" stroke-linecap="butt" marker-end="url(#ah)"/>
<path d="M921 956C924.2 961 933.8 976 940 986C946.2 996 952.7 1006.7 958 1016C963.3 1025.3 968.8 1034.8 972 1042C975.2 1049.2 977.5 1055 977 1059C976.5 1063 974.3 1066 969 1066C963.7 1066 954 1062.8 945 1059C936 1055.2 925 1049 915 1043C905 1037 894.5 1029.7 885 1023C875.5 1016.3 862.5 1006.3 858 1003" fill="none" stroke="#fff" stroke-width="3.7" stroke-linecap="butt" marker-end="url(#ah)"/>
<path d="M830 975C827.5 971.7 820 961.8 815 955C810 948.2 804.3 939.7 800 934C795.7 928.3 790.8 923.2 789 921" fill="none" stroke="#fff" stroke-width="3.7" stroke-linecap="butt" marker-end="url(#ah)"/>
<path d="M859 1266C858.9 1271.7 858.7 1288.8 858.5 1300C858.3 1311.2 858.1 1327.5 858 1333" fill="none" stroke="#fff" stroke-width="4.8" stroke-linecap="butt" marker-end="url(#ah2)"/>
</g>
<path class="ld" d="M500 437L526 437L560 562"/>
<circle class="dot" cx="560" cy="562" r="5"/>
<path class="ld" d="M292 565L322 565L393 644"/>
<circle class="dot" cx="393" cy="644" r="5"/>
<path class="ld" d="M322 565L758 646"/>
<circle class="dot" cx="758" cy="646" r="5"/>
<path class="ld" d="M293 837.3L323 837.3L420.7 809.3"/>
<circle class="dot" cx="420.7" cy="809.3" r="5"/>
<path class="ld" d="M323 837.3L416.7 874"/>
<circle class="dot" cx="416.7" cy="874" r="5"/>
<path class="ld" d="M328 1010.7L357 1010.7L533.3 942.7"/>
<circle class="dot" cx="533.3" cy="942.7" r="5"/>
<path class="ld" d="M401 1169L429 1169L652 1079"/>
<circle class="dot" cx="652" cy="1079" r="5"/>
<path class="ld" d="M477 1318.3L505.6 1318.3L530.3 1241.3"/>
<circle class="dot" cx="530.3" cy="1241.3" r="5"/>
<path class="ld" d="M655 1433L684.3 1433L750.6 1149"/>
<circle class="dot" cx="750.6" cy="1149" r="5"/>
<path class="ld" d="M985.7 382L956.3 382L826.6 530.4"/>
<circle class="dot" cx="826.6" cy="530.4" r="5"/>
<path class="ld" d="M1082.3 506.6L1052 506.6L859.7 754"/>
<circle class="dot" cx="859.7" cy="754" r="5"/>
<path class="ld" d="M1209.7 781L1180.3 781L979.7 694.7"/>
<circle class="dot" cx="979.7" cy="694.7" r="5"/>
<path class="ld" d="M1180.3 781L1067.4 722.7"/>
<circle class="dot" cx="1067.4" cy="722.7" r="5"/>
<path class="ld" d="M1193 1001.6L1164 1001.6L906 897"/>
<circle class="dot" cx="906" cy="897" r="5"/>
<path class="ld" d="M1240 1196.7L1211.6 1196.7L977.3 1000.7"/>
<circle class="dot" cx="977.3" cy="1000.7" r="5"/>
<path class="ld" d="M1201.3 1361L1173.3 1361L846.7 1065"/>
<circle class="dot" cx="846.7" cy="1065" r="5"/>
<text class="lb" x="114" y="448" textLength="378" lengthAdjust="spacing">Superior vena cava</text>
<text class="lb" x="69" y="578" textLength="211" lengthAdjust="spacing">Pulmonary</text>
<text class="lb" x="69" y="620.5" textLength="123" lengthAdjust="spacing">artery</text>
<text class="lb" x="69" y="849.3" textLength="211" lengthAdjust="spacing">Pulmonary</text>
<text class="lb" x="69" y="891" textLength="100" lengthAdjust="spacing">veins</text>
<text class="lb" x="78" y="1025" textLength="240" lengthAdjust="spacing">Right atrium</text>
<text class="lb" x="102.7" y="1183" textLength="288" lengthAdjust="spacing">Tricuspid valve</text>
<text class="lb" x="113.4" y="1332.3" textLength="354" lengthAdjust="spacing">Inferior vena cava</text>
<text class="lb" x="364" y="1444.3" textLength="280" lengthAdjust="spacing">Right ventricle</text>
<text class="lb" x="995.3" y="395" textLength="111" lengthAdjust="spacing">Aorta</text>
<text class="lb" x="1090" y="520.6" textLength="216" lengthAdjust="spacing">Left atrium</text>
<text class="lb" x="1219.3" y="793.6" textLength="212.7" lengthAdjust="spacing">Pulmonary</text>
<text class="lb" x="1219.3" y="834.7" textLength="100" lengthAdjust="spacing">veins</text>
<text class="lb" x="1202" y="1018" textLength="223" lengthAdjust="spacing">Mitral valve</text>
<text class="lb" x="1250.6" y="1209.7" textLength="76.4" lengthAdjust="spacing">Left</text>
<text class="lb" x="1250.6" y="1251.3" textLength="171" lengthAdjust="spacing">ventricle</text>
<text class="lb" x="1211.4" y="1375.4" textLength="152" lengthAdjust="spacing">Septum</text>
<circle cx="106" cy="1615.5" r="23.5" fill="#e81f2e"/>
<circle cx="611.5" cy="1615.5" r="23.5" fill="#1275bc"/>
<circle cx="1135" cy="1615.5" r="23.5" fill="#7b4e9b"/>
<text x="149.5" y="1628" textLength="344" lengthAdjust="spacing" font-family="Liberation Sans, sans-serif" font-size="38" fill="#222">oxygen-rich blood</text>
<text x="655.5" y="1628" textLength="361" lengthAdjust="spacing" font-family="Liberation Sans, sans-serif" font-size="38" fill="#222">oxygen-poor blood</text>
<text x="1178" y="1628" textLength="232" lengthAdjust="spacing" font-family="Liberation Sans, sans-serif" font-size="38" fill="#222">mixed blood</text>
</svg>
</body></html>
